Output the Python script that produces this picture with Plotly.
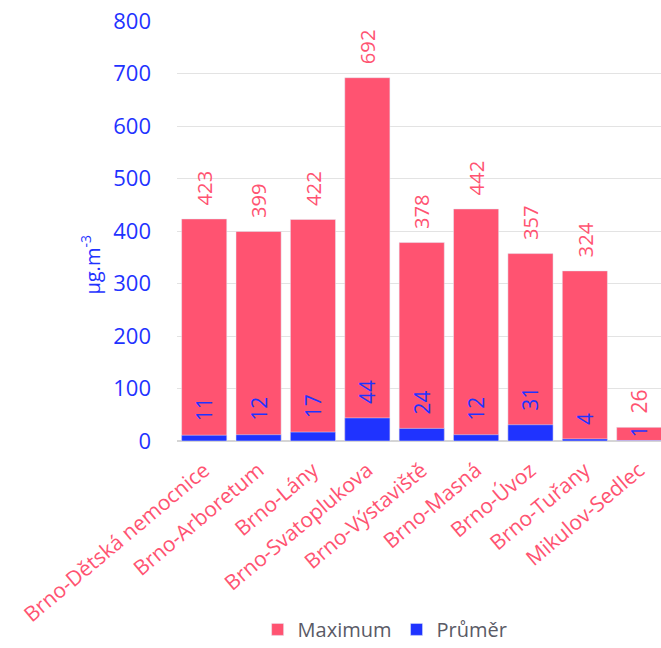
import plotly.graph_objects as go

stations = ["Brno-Dětská nemocnice", "Brno-Arboretum", "Brno-Lány", "Brno-Svatoplukova",
            "Brno-Výstaviště", "Brno-Masná", "Brno-Úvoz", "Brno-Tuřany", "Mikulov-Sedlec"]
maximum = [423, 399, 422, 692, 378, 442, 357, 324, 26]
prumer = [11, 12, 17, 44, 24, 12, 31, 4, 1]

RED = "#FF5371"
BLUE = "#1F33FF"
FONT = "Open Sans"

PAD = "\u00a0\u00a0"
# the small Mikulov-Sedlec average label sits right on its bar (no extra padding)
blue_templates = [PAD + "%{y}"] * (len(prumer) - 1) + ["%{y}"]

fig = go.Figure()
fig.add_trace(go.Bar(
    x=stations, y=maximum, name="Maximum", marker_color=RED,
    text=maximum, texttemplate=PAD + "%{y}", textposition="outside",
    textangle=-90, textfont=dict(color=RED, size=21, family=FONT),
    cliponaxis=False,
))
fig.add_trace(go.Bar(
    x=stations, y=prumer, name="Průměr", marker_color=BLUE,
    text=prumer, texttemplate=blue_templates, textposition="outside",
    textangle=-90, textfont=dict(color=BLUE, size=21, family=FONT),
    cliponaxis=False,
))

fig.update_layout(
    width=661, height=648,
    margin=dict(l=177, r=0, t=21, b=207, autoexpand=False),
    barmode="overlay", bargap=0.17,
    plot_bgcolor="white", paper_bgcolor="white",
    font=dict(family=FONT),
    showlegend=True,
    legend=dict(orientation="h", x=0.43, xanchor="center", y=-0.495, yanchor="bottom",
                font=dict(size=20, color="#5A5A66", family=FONT), traceorder="normal"),
    xaxis=dict(range=[-0.5, 8.4], tickangle=-40, showgrid=False, ticks="",
               ticklabelstandoff=12, automargin=False,
               tickfont=dict(color=RED, size=21, family=FONT), showline=False),
    yaxis=dict(range=[0, 800], dtick=100, showgrid=True, gridcolor="#E3E3E3", gridwidth=1,
               zeroline=True, zerolinecolor="#D5D5D5", zerolinewidth=1.5, ticks="",
               ticklabelstandoff=25, automargin=False,
               tickfont=dict(color=BLUE, size=22, family=FONT)),
    annotations=[dict(text="μg.m<sup>-3</sup>", xref="paper", yref="paper",
                      x=0, xshift=-86, xanchor="center", y=0.42, yanchor="middle",
                      textangle=-90, showarrow=False,
                      font=dict(color=BLUE, size=20, family=FONT))],
)

fig.write_html("out.html")
